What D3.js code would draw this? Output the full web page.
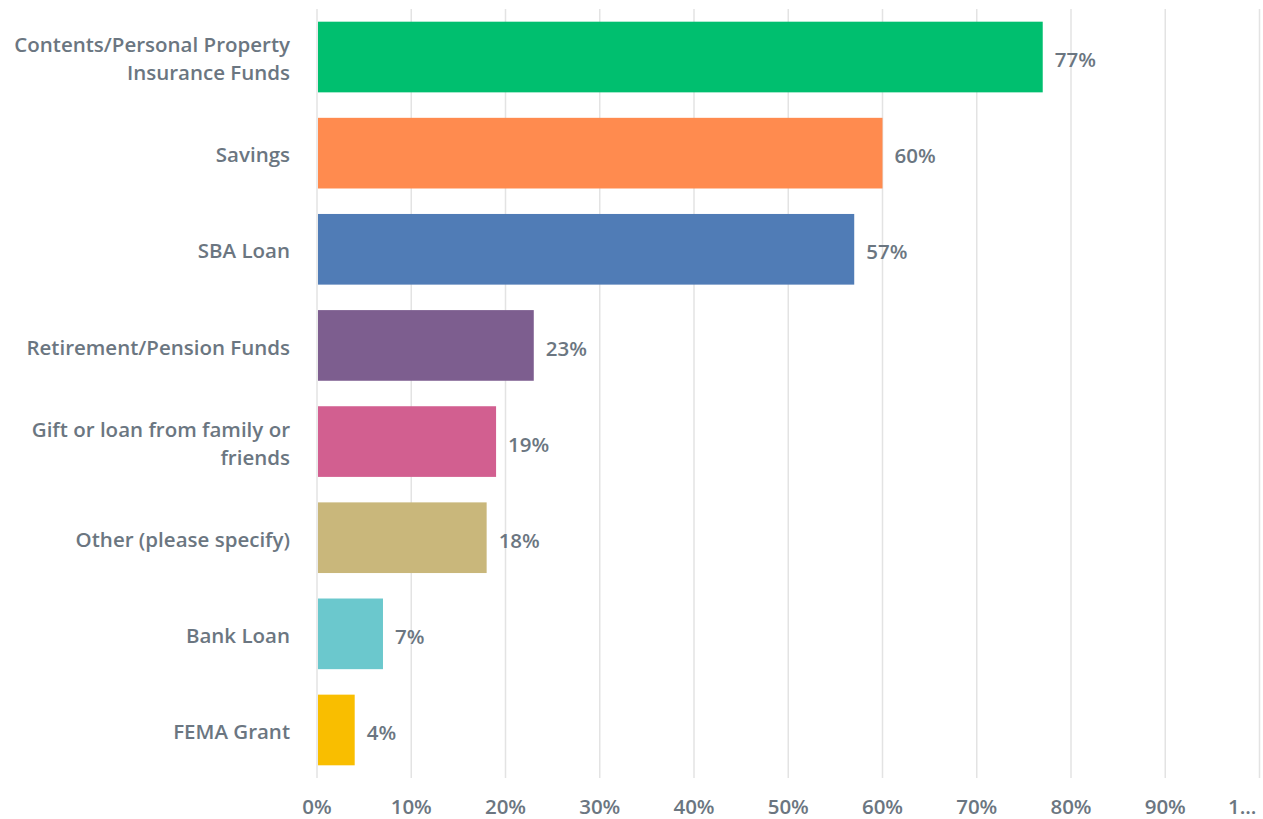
<!DOCTYPE html>
<html>
<head>
<meta charset="utf-8">
<script src="https://cdn.jsdelivr.net/npm/d3@7"></script>
<style>
  html, body { margin: 0; padding: 0; background: #ffffff; }
  svg { display: block; }
  text { font-family: "Open Sans", "Noto Sans", sans-serif; font-weight: 600; fill: #6b7681; }
</style>
</head>
<body>
<svg id="chart" width="1263" height="819"></svg>
<script>
// Sources of recovery funding, share of respondents
const categories = [
  ["Contents/Personal Property", "Insurance Funds"],
  ["Savings"],
  ["SBA Loan"],
  ["Retirement/Pension Funds"],
  ["Gift or loan from family or", "friends"],
  ["Other (please specify)"],
  ["Bank Loan"],
  ["FEMA Grant"]
];
const values = [77, 60, 57, 23, 19, 18, 7, 4];
const barColors = ["#00bf6f", "#ff8b4f", "#507cb6", "#7d5e8f", "#d25f90", "#c9b77b", "#6bc8cd", "#f9be00"];
const tickValues = [0, 10, 20, 30, 40, 50, 60, 70, 80, 90, 100];
const tickLabels = ["0%", "10%", "20%", "30%", "40%", "50%", "60%", "70%", "80%", "90%", "1..."];

const svg = d3.select("#chart");
const plot = { left: 317, right: 1259.5, top: 9, bottom: 778 };
const fs = 20.5;

const x = d3.scaleLinear().domain([0, 100]).range([plot.left, plot.right]);
const y = d3.scaleBand().domain(d3.range(values.length)).range([plot.top, plot.bottom]).paddingInner(0.265).paddingOuter(0.132);

// vertical gridlines
svg.append("g").selectAll("line").data(tickValues).join("line")
  .attr("x1", d => x(d)).attr("x2", d => x(d))
  .attr("y1", plot.top).attr("y2", plot.bottom)
  .attr("stroke", "#e3e3e3").attr("stroke-width", 1.5);

// bars
svg.append("g").selectAll("rect").data(values).join("rect")
  .attr("x", x(0) + 1)
  .attr("y", (d, i) => y(i))
  .attr("width", d => x(d) - x(0) - 1)
  .attr("height", y.bandwidth())
  .attr("fill", (d, i) => barColors[i]);

// value labels
svg.append("g").selectAll("text").data(values).join("text")
  .attr("x", d => x(d) + 12)
  .attr("y", (d, i) => y(i) + y.bandwidth() / 2 + 3)
  .attr("dy", "0.35em")
  .attr("font-size", fs)
  .text(d => d + "%");

// category labels, right-aligned, possibly on two lines
const lineH = 28;
const cat = svg.append("g").selectAll("text").data(categories).join("text")
  .attr("text-anchor", "end")
  .attr("font-size", fs)
  .attr("x", 290)
  .attr("y", (d, i) => y(i) + y.bandwidth() / 2 + 2);
cat.selectAll("tspan").data(d => d.map((t, k) => ({ t, k, n: d.length }))).join("tspan")
  .attr("x", 290)
  .attr("dy", d => d.k === 0 ? `${0.35 - (d.n - 1) * lineH / 2 / fs}em` : `${lineH / fs}em`)
  .text(d => d.t);

// x axis tick labels (the last one is clipped by the chart edge)
svg.append("g").selectAll("text").data(tickValues).join("text")
  .attr("x", (d, i) => i === tickValues.length - 1 ? x(d) - 3 : x(d))
  .attr("y", 807)
  .attr("dy", "0.35em")
  .attr("text-anchor", (d, i) => i === tickValues.length - 1 ? "end" : "middle")
  .attr("font-size", fs)
  .text((d, i) => tickLabels[i]);
</script>
</body>
</html>
